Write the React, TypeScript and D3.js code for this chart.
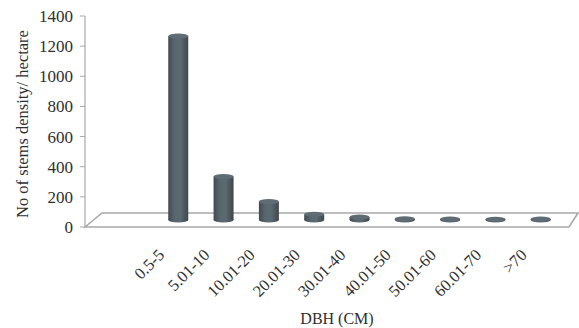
import React from "react";
import * as d3 from "d3";

const categories = ["0.5-5", "5.01-10", "10.01-20", "20.01-30", "30.01-40", "40.01-50", "50.01-60", "60.01-70", ">70"];
const stemDensity = [1220, 288, 122, 38, 20, 8, 6, 5, 6];
const yTicks = [0, 200, 400, 600, 800, 1000, 1200, 1400];

const W = 579;
const H = 328;
const FONT = "'Liberation Serif', 'Times New Roman', serif";

export default function App() {
  // value axis drawn on the left wall
  const y = d3.scaleLinear().domain([0, 1400]).range([227, 16]);
  // columns sit halfway back into the floor
  const depthDy = -7;
  const x = d3.scaleBand<string>().domain(categories).range([142, 577]).padding(0.6);
  const bw = 20;
  const ry = 2.6;

  const floor = [
    [85, 227],
    [102, 213],
    [578, 213],
    [569, 227],
  ];

  return (
    <svg width={W} height={H} style={{ position: "absolute", left: 0, top: 0, background: "#fff" }}>
      <defs>
        <linearGradient id="cyl" x1="0" x2="1" y1="0" y2="0">
          <stop offset="0%" stopColor="#414b50" />
          <stop offset="30%" stopColor="#58656c" />
          <stop offset="60%" stopColor="#5c6a71" />
          <stop offset="100%" stopColor="#3e474b" />
        </linearGradient>
      </defs>

      {/* floor */}
      <polygon
        points={floor.map((p) => p.join(",")).join(" ")}
        fill="#fff"
        stroke="#a8a8a8"
        strokeWidth={1.6}
      />

      {/* value axis */}
      <line x1={85} x2={85} y1={y(1400)} y2={y(0)} stroke="#a8a8a8" strokeWidth={1.2} />
      {yTicks.map((t) => (
        <g key={t}>
          <line x1={80} x2={85} y1={y(t)} y2={y(t)} stroke="#a8a8a8" strokeWidth={1} />
          <text
            x={73}
            y={y(t)}
            dy="0.35em"
            textAnchor="end"
            fontFamily={FONT}
            fontSize={17}
            fill="#2f2f2f"
          >
            {t}
          </text>
        </g>
      ))}

      {/* cylinders */}
      {categories.map((c, i) => {
        const cx = (x(c) as number) + x.bandwidth() / 2;
        const base = y(0) + depthDy;
        const top = y(stemDensity[i]) + depthDy;
        const h = Math.max(base - top, 0);
        return (
          <g key={c}>
            <rect x={cx - bw / 2} y={top} width={bw} height={h} fill="url(#cyl)" />
            <ellipse cx={cx} cy={base} rx={bw / 2} ry={ry} fill="url(#cyl)" />
            <ellipse cx={cx} cy={top} rx={bw / 2} ry={ry} fill="#5f6c73" />
          </g>
        );
      })}

      {/* category labels */}
      {categories.map((c) => {
        const cx = (x(c) as number) + x.bandwidth() / 2;
        return (
          <text
            key={c}
            transform={`translate(${cx - 13},${256}) rotate(-45)`}
            textAnchor="end"
            fontFamily={FONT}
            fontSize={16.5}
            fill="#2f2f2f"
          >
            {c}
          </text>
        );
      })}

      {/* axis titles */}
      <text
        transform={`translate(28,124) rotate(-90)`}
        textAnchor="middle"
        fontFamily={FONT}
        fontSize={16.5}
        fill="#2f2f2f"
      >
        No of stems density/ hectare
      </text>
      <text x={337} y={324} textAnchor="middle" fontFamily={FONT} fontSize={16} fill="#2f2f2f">
        DBH (CM)
      </text>
    </svg>
  );
}
